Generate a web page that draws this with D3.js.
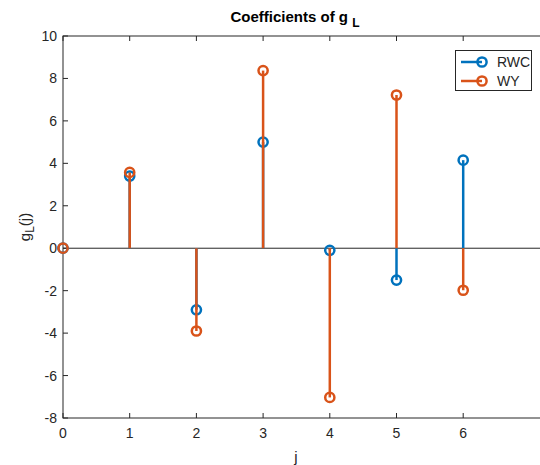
<!DOCTYPE html>
<html>
<head>
<meta charset="utf-8">
<script src="https://cdn.jsdelivr.net/npm/d3@7"></script>
<style>
  body { margin: 0; background: #fff; }
  text { font-family: "Liberation Sans", Arial, sans-serif; fill: #262626; }
</style>
</head>
<body>
<svg id="chart" width="540" height="465"></svg>
<script>
// stem data, index j = 0..6
const jValues = [0, 1, 2, 3, 4, 5, 6]
const rwcValues = [0, 3.4, -2.9, 5.0, -0.1, -1.5, 4.15]
const wyValues = [0, 3.57, -3.9, 8.37, -7.03, 7.22, -1.98]
const xTicks = [0, 1, 2, 3, 4, 5, 6]
const yTicks = [-8, -6, -4, -2, 0, 2, 4, 6, 8, 10]

const series = [
  { name: 'RWC', values: rwcValues, color: '#0072BD' },
  { name: 'WY', values: wyValues, color: '#D95319' }
]

const svg = d3.select('#chart')
const plotLeft = 63, plotTop = 36, plotBottom = 418
const x = d3.scaleLinear().domain([0, 7.2]).range([plotLeft, plotLeft + 7.2 * 66.7])
const y = d3.scaleLinear().domain([-8, 10]).range([plotBottom, plotTop])
const axisColor = '#262626'

// box (right side falls outside the window)
svg.append('rect')
  .attr('x', plotLeft).attr('y', plotTop)
  .attr('width', x(7.2) - plotLeft).attr('height', plotBottom - plotTop)
  .attr('fill', 'none').attr('stroke', axisColor).attr('stroke-width', 1)

// ticks
const tickLen = 5
xTicks.forEach(t => {
  svg.append('line').attr('x1', x(t)).attr('x2', x(t)).attr('y1', plotBottom).attr('y2', plotBottom - tickLen)
    .attr('stroke', axisColor)
  svg.append('line').attr('x1', x(t)).attr('x2', x(t)).attr('y1', plotTop).attr('y2', plotTop + tickLen)
    .attr('stroke', axisColor)
  svg.append('text').attr('x', x(t)).attr('y', plotBottom + 20)
    .attr('text-anchor', 'middle').attr('font-size', '14px').text(t)
})
yTicks.forEach(t => {
  svg.append('line').attr('x1', plotLeft).attr('x2', plotLeft + tickLen).attr('y1', y(t)).attr('y2', y(t))
    .attr('stroke', axisColor)
  svg.append('text').attr('x', plotLeft - 6).attr('y', y(t) + 5)
    .attr('text-anchor', 'end').attr('font-size', '14px').text(t)
})

// stem baseline
svg.append('line').attr('x1', plotLeft).attr('x2', 540).attr('y1', y(0)).attr('y2', y(0))
  .attr('stroke', axisColor).attr('stroke-width', 1)

// stems + markers
series.forEach(s => {
  const g = svg.append('g')
  g.selectAll('line.stem').data(jValues).join('line').attr('class', 'stem')
    .attr('x1', d => x(d)).attr('x2', d => x(d))
    .attr('y1', y(0)).attr('y2', (d, i) => y(s.values[i]))
    .attr('stroke', s.color).attr('stroke-width', 2.5)
  g.selectAll('circle').data(jValues).join('circle')
    .attr('cx', d => x(d)).attr('cy', (d, i) => y(s.values[i]))
    .attr('r', 4.6).attr('fill', 'none')
    .attr('stroke', s.color).attr('stroke-width', 2.5)
})

// title
const title = svg.append('text').attr('x', 295).attr('y', 22)
  .attr('text-anchor', 'middle').attr('font-size', '15px').attr('font-weight', 'bold')
  .style('fill', '#000')
title.append('tspan').text('Coefficients of g ')
title.append('tspan').attr('font-size', '12px').attr('dy', 5).text('L')

// axis labels
svg.append('text').attr('x', 296).attr('y', 462)
  .attr('text-anchor', 'middle').attr('font-size', '15px').text('j')
const yl = svg.append('text').attr('transform', 'translate(30,227) rotate(-90)')
  .attr('text-anchor', 'middle').attr('font-size', '15px')
yl.append('tspan').text('g')
yl.append('tspan').attr('font-size', '12px').attr('dy', 4).text('L')
yl.append('tspan').attr('dy', -4).text('(j)')

// legend
const lg = svg.append('g')
lg.append('rect').attr('x', 455.5).attr('y', 50.5).attr('width', 76).attr('height', 40)
  .attr('fill', '#fff').attr('stroke', axisColor).attr('stroke-width', 1)
series.forEach((s, i) => {
  const ly = 62 + i * 19
  lg.append('line').attr('x1', 461).attr('x2', 482).attr('y1', ly).attr('y2', ly)
    .attr('stroke', s.color).attr('stroke-width', 2.5)
  lg.append('circle').attr('cx', 482).attr('cy', ly).attr('r', 4.6)
    .attr('fill', 'none').attr('stroke', s.color).attr('stroke-width', 2.5)
  lg.append('text').attr('x', 497).attr('y', ly + 5).attr('font-size', '14px').text(s.name)
})
</script>
</body>
</html>
